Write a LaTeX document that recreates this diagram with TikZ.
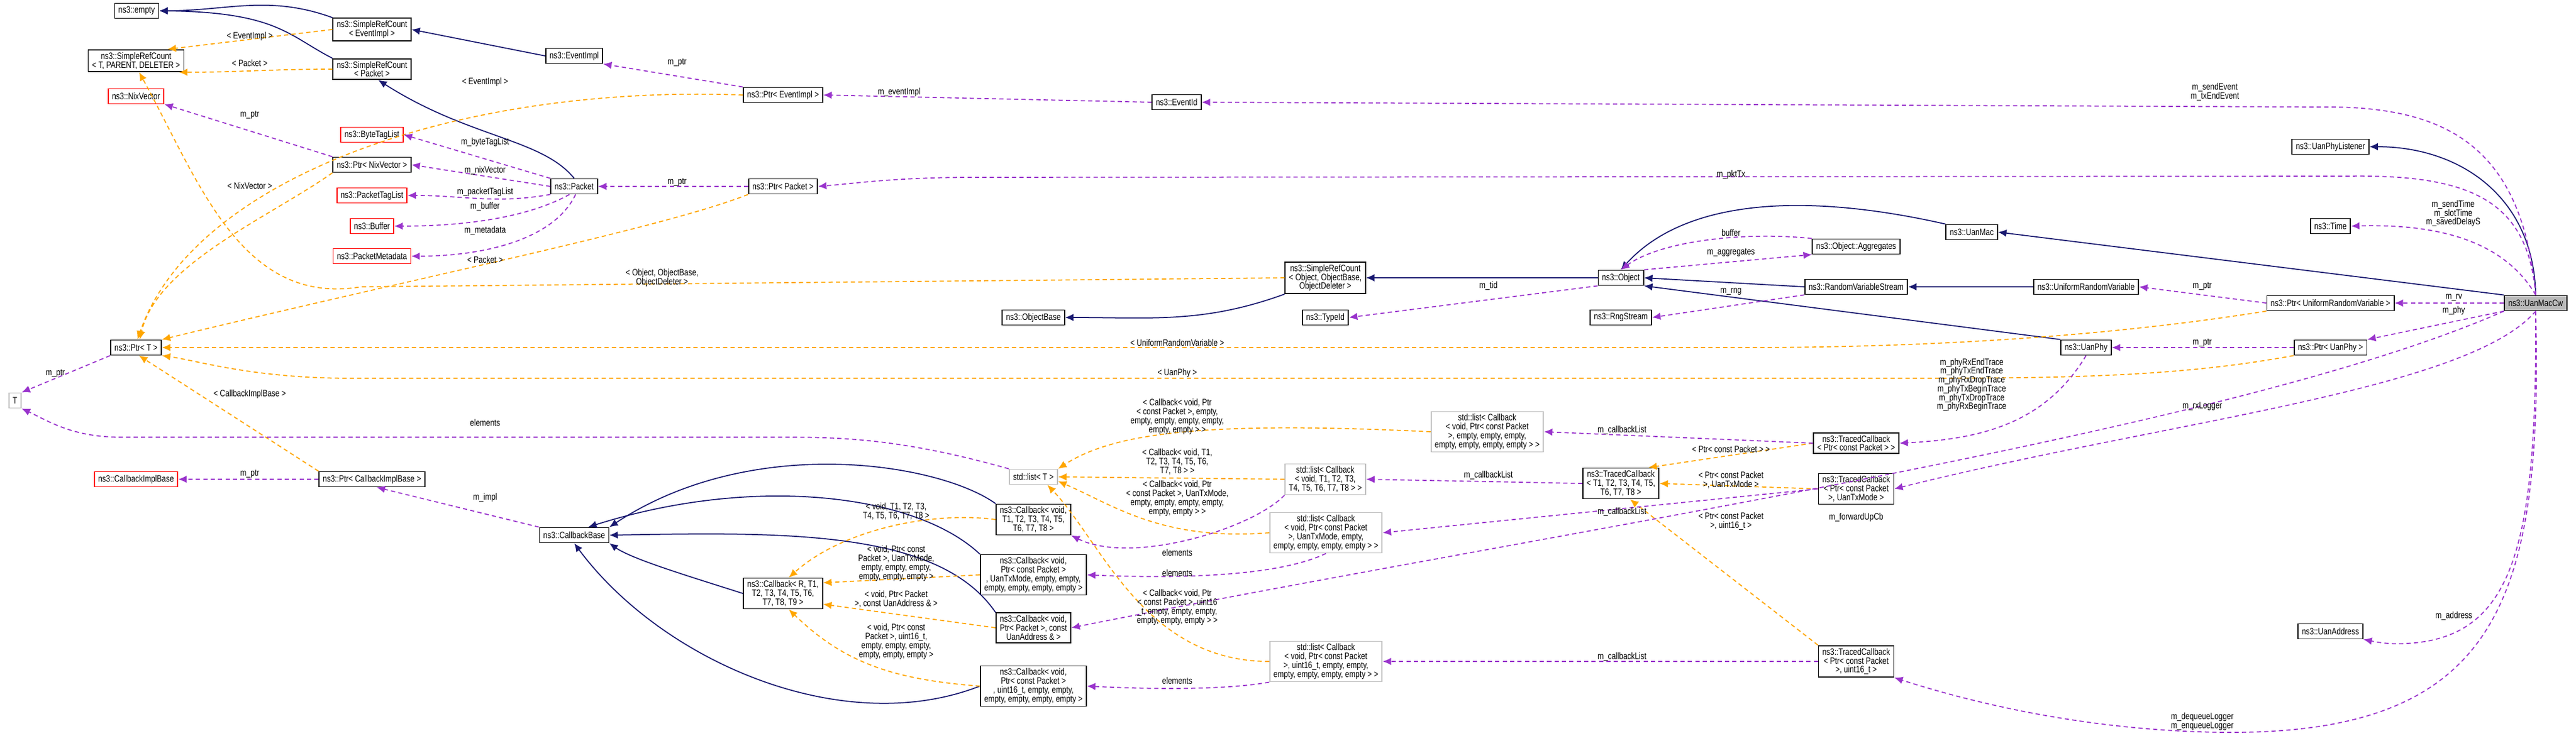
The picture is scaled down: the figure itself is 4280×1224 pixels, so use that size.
\documentclass[tikz,border=0pt]{standalone}
\usepackage{fontspec}
\setmainfont{Liberation Sans}[FakeStretch=0.8]
\usetikzlibrary{arrows.meta}
\definecolor{inhblue}{rgb}{0.1,0.1,0.44}
\definecolor{usepurple}{rgb}{0.6,0.2,0.8}
\definecolor{tplorange}{rgb}{1,0.65,0}
\tikzset{
  cls/.style={draw=black,line width=0.5pt,fill=white,align=center,inner xsep=1.8pt,inner ysep=1.2pt,minimum height=0.25cm,font=\fontsize{4.4}{4.2}\selectfont},
  undoc/.style={cls,draw=red},
  ext/.style={cls,draw=gray!50},
  focus/.style={cls,fill=gray!55},
  lbl/.style={align=center,inner sep=0pt,font=\fontsize{4.4}{4.2}\selectfont},
  inh/.style={draw=inhblue,line width=0.5pt,-{Latex[length=4pt,width=3.5pt]}},
  use/.style={draw=usepurple,line width=0.5pt,dash pattern=on 2pt off 1.5pt,-{Latex[length=4pt,width=3.5pt]}},
  tpl/.style={draw=tplorange,line width=0.5pt,dash pattern=on 2pt off 1.5pt,-{Latex[length=4pt,width=3.5pt]}}
}
\begin{document}
\begin{tikzpicture}[x=0.01cm,y=-0.01cm]
\useasboundingbox (0,0) rectangle (4280,1224);
% classes
\node[cls] (empty) at (227,18) {ns3::empty};
\node[cls] (srcEv) at (618,49) {ns3::SimpleRefCount\\ < EventImpl >};
\node[cls] (srcRef) at (226,101) {ns3::SimpleRefCount\\ < T, PARENT, DELETER >};
\node[cls] (srcPk) at (618,115) {ns3::SimpleRefCount\\ < Packet >};
\node[cls] (evImpl) at (954,93) {ns3::EventImpl};
\node[undoc] (nixVec) at (226,160) {ns3::NixVector};
\node[undoc] (byteTag) at (618,224) {ns3::ByteTagList};
\node[cls] (ptrNix) at (618,274) {ns3::Ptr< NixVector >};
\node[cls] (packet) at (954,310) {ns3::Packet};
\node[undoc] (pktTag) at (618,325) {ns3::PacketTagList};
\node[undoc] (buffer) at (618,376) {ns3::Buffer};
\node[undoc] (pktMeta) at (618,426) {ns3::PacketMetadata};
\node[cls] (ptrT) at (226,578) {ns3::Ptr< T >};
\node[ext] (tT) at (25,666) {T};
\node[undoc] (cbImpl) at (226,797) {ns3::CallbackImplBase};
\node[cls] (ptrCb) at (618,797) {ns3::Ptr< CallbackImplBase >};
\node[cls] (cbBase) at (954,890) {ns3::CallbackBase};
\node[cls] (cbGen) at (1301,987) {ns3::Callback< R, T1,\\ T2, T3, T4, T5, T6,\\ T7, T8, T9 >};
\node[cls] (ptrEv) at (1301,158) {ns3::Ptr< EventImpl >};
\node[cls] (ptrPk) at (1301,310) {ns3::Ptr< Packet >};
\node[cls] (eventId) at (1955,170) {ns3::EventId};
\node[cls] (objBase) at (1717,528) {ns3::ObjectBase};
\node[ext] (listT) at (1717,793) {std::list< T >};
\node[cls] (cbT8) at (1717,864) {ns3::Callback< void,\\ T1, T2, T3, T4, T5,\\ T6, T7, T8 >};
\node[cls] (cbTx) at (1717,956) {ns3::Callback< void,\\ Ptr< const Packet >\\ , UanTxMode, empty, empty,\\ empty, empty, empty, empty >};
\node[cls] (cbAddr) at (1717,1044) {ns3::Callback< void,\\ Ptr< Packet >, const\\ UanAddress \& >};
\node[cls] (cbU16) at (1717,1141) {ns3::Callback< void,\\ Ptr< const Packet >\\ , uint16\_t, empty, empty,\\ empty, empty, empty, empty >};
\node[cls] (srcObj) at (2202,462) {ns3::SimpleRefCount\\ < Object, ObjectBase,\\ ObjectDeleter >};
\node[cls] (typeId) at (2202,528) {ns3::TypeId};
\node[ext] (list8) at (2202,797) {std::list< Callback\\ < void, T1, T2, T3,\\ T4, T5, T6, T7, T8 > >};
\node[ext] (listTx) at (2203,886) {std::list< Callback\\ < void, Ptr< const Packet\\ >, UanTxMode, empty,\\ empty, empty, empty, empty > >};
\node[ext] (listU) at (2203,1100) {std::list< Callback\\ < void, Ptr< const Packet\\ >, uint16\_t, empty, empty,\\ empty, empty, empty, empty > >};
\node[ext] (listE) at (2471,718) {std::list< Callback\\ < void, Ptr< const Packet\\ >, empty, empty, empty,\\ empty, empty, empty, empty > >};
\node[cls] (object) at (2693,462) {ns3::Object};
\node[cls] (rngStream) at (2693,528) {ns3::RngStream};
\node[cls] (tcGen) at (2693,804) {ns3::TracedCallback\\ < T1, T2, T3, T4, T5,\\ T6, T7, T8 >};
\node[cls] (aggr) at (3084,410) {ns3::Object::Aggregates};
\node[cls] (rvs) at (3084,477) {ns3::RandomVariableStream};
\node[cls] (tcP) at (3084,737) {ns3::TracedCallback\\ < Ptr< const Packet > >};
\node[cls] (tcTx) at (3084,813) {ns3::TracedCallback\\ < Ptr< const Packet\\ >, UanTxMode >};
\node[cls] (tcU) at (3084,1100) {ns3::TracedCallback\\ < Ptr< const Packet\\ >, uint16\_t >};
\node[cls] (uanMac) at (3276,386) {ns3::UanMac};
\node[cls] (urv) at (3466,477) {ns3::UniformRandomVariable};
\node[cls] (uanPhy) at (3466,578) {ns3::UanPhy};
\node[cls] (phyList) at (3872,244) {ns3::UanPhyListener};
\node[cls] (time) at (3872,376) {ns3::Time};
\node[cls] (ptrUrv) at (3872,504) {ns3::Ptr< UniformRandomVariable >};
\node[cls] (ptrPhy) at (3872,578) {ns3::Ptr< UanPhy >};
\node[cls] (uanAddr) at (3872,1050) {ns3::UanAddress};
\node[focus] (macCw) at (4213,504) {ns3::UanMacCw};
% inheritance
\draw[inh] (srcEv.north west) to[out=160,in=0] (empty.east);
\draw[inh] (srcPk.north west) .. controls (480,60) and (460,20) .. (empty.east);
\draw[inh] (evImpl.west) -- (srcEv.east);
\draw[inh] (packet.north) .. controls (900,230) and (780,230) .. (srcPk.-60);
\draw[inh] (srcObj.south west) to[out=200,in=0] (objBase.east);
\draw[inh] (object.west) -- (srcObj.east);
\draw[inh] (rvs.west) -- (object.east);
\draw[inh] (uanMac.north west) .. controls (3000,320) and (2800,330) .. (object.north);
\draw[inh] (uanPhy.north west) -- (object.south east);
\draw[inh] (urv.west) -- (rvs.east);
\draw[inh] (macCw.north west) -- (uanMac.east);
\draw[inh] (macCw.north) .. controls (4210,330) and (4090,244) .. (phyList.east);
\draw[inh] (cbGen.west) .. controls (1150,960) and (1050,930) .. (cbBase.south east);
\draw[inh] (cbT8.north west) .. controls (1560,770) and (1250,720) .. (cbBase.north east);
\draw[inh] (cbTx.north west) .. controls (1520,820) and (1250,790) .. (cbBase.30);
\draw[inh] (cbAddr.north west) .. controls (1560,880) and (1300,885) .. (cbBase.east);
\draw[inh] (cbU16.west) .. controls (1400,1230) and (1100,1100) .. (cbBase.south);
% templates
\draw[tpl] (srcEv.west) -- (srcRef.20);
\draw[tpl] (srcPk.west) to[out=180,in=0] (srcRef.-15);
\draw[tpl] (srcObj.west) -- (600,477) .. controls (400,510) and (330,300) .. (srcRef.-75);
\draw[tpl] (ptrEv.west) .. controls (750,140) and (320,300) .. (ptrT.80);
\draw[tpl] (ptrNix.south west) .. controls (450,360) and (260,440) .. (ptrT.65);
\draw[tpl] (ptrPk.south west) .. controls (1100,380) and (700,460) .. (ptrT.north east);
\draw[tpl] (ptrCb.north west) -- (ptrT.-70);
\draw[tpl] (ptrUrv.south west) .. controls (3500,560) and (3200,578) .. (2900,578) -- (ptrT.east);
\draw[tpl] (ptrPhy.south west) .. controls (3600,630) and (3400,629) .. (3100,629) -- (580,629) .. controls (420,629) and (330,600) .. (ptrT.south east);
\draw[tpl] (cbT8.west) .. controls (1550,850) and (1400,880) .. (cbGen.70);
\draw[tpl] (cbTx.west) -- (cbGen.15);
\draw[tpl] (cbAddr.west) -- (cbGen.-15);
\draw[tpl] (cbU16.west) .. controls (1480,1130) and (1400,1100) .. (cbGen.-70);
\draw[tpl] (listE.west) .. controls (2000,700) and (1850,720) .. (listT.north east);
\draw[tpl] (list8.west) -- (listT.east);
\draw[tpl] (listTx.west) .. controls (1930,900) and (1850,840) .. (listT.-10);
\draw[tpl] (listU.west) .. controls (1900,1100) and (1830,900) .. (listT.-30);
\draw[tpl] (tcP.west) -- (tcGen.30);
\draw[tpl] (tcTx.west) -- (tcGen.east);
\draw[tpl] (tcU.north west) -- (tcGen.-60);
% usage
\draw[use] (ptrEv.north west) -- (evImpl.south east);
\draw[use] (eventId.west) -- (ptrEv.east);
\draw[use] (macCw.north) .. controls (4190,230) and (4050,175) .. (3850,178) -- (eventId.east);
\draw[use] (ptrNix.north west) -- (nixVec.south east);
\draw[use] (packet.north west) -- (byteTag.east);
\draw[use] (packet.west) -- (ptrNix.east);
\draw[use] (packet.south west) to[out=190,in=0] (pktTag.east);
\draw[use] (packet.-120) .. controls (880,360) and (780,376) .. (buffer.east);
\draw[use] (packet.-80) .. controls (920,400) and (800,426) .. (pktMeta.east);
\draw[use] (ptrPk.west) -- (packet.east);
\draw[use] (macCw.north) .. controls (4200,330) and (4100,290) .. (3900,293) -- (1600,295) .. controls (1480,296) and (1420,305) .. (ptrPk.east);
\draw[use] (ptrT.south west) -- (tT.north east);
\draw[use] (listT.north west) .. controls (1500,730) and (1400,727) .. (1300,727) -- (200,727) .. controls (120,727) and (80,700) .. (tT.south east);
\draw[use] (ptrCb.west) -- (cbImpl.east);
\draw[use] (cbBase.north west) -- (ptrCb.-60);
\draw[use] (list8.south west) .. controls (2080,880) and (1880,940) .. (cbT8.south east);
\draw[use] (listTx.south) .. controls (2120,960) and (1950,962) .. (cbTx.east);
\draw[use] (listU.south west) .. controls (2050,1145) and (1950,1148) .. (cbU16.east);
\draw[use] (macCw.south west) .. controls (3700,720) and (2600,880) .. (cbAddr.east);
\draw[use] (object.south west) -- (typeId.east);
\draw[use] (object.north east) -- (aggr.south west);
\draw[use] (aggr.north west) .. controls (2900,385) and (2760,400) .. (object.north);
\draw[use] (rvs.south west) -- (rngStream.east);
\draw[use] (ptrUrv.west) -- (urv.east);
\draw[use] (macCw.west) -- (ptrUrv.east);
\draw[use] (macCw.south west) -- (ptrPhy.north east);
\draw[use] (ptrPhy.west) -- (uanPhy.east);
\draw[use] (macCw.north) .. controls (4160,400) and (4050,372) .. (time.east);
\draw[use] (uanPhy.south) .. controls (3400,700) and (3300,730) .. (tcP.east);
\draw[use] (tcP.west) -- (listE.east);
\draw[use] (tcGen.west) -- (list8.east);
\draw[use] (tcTx.west) -- (listTx.east);
\draw[use] (tcU.west) -- (listU.east);
\draw[use] (macCw.south) .. controls (4100,650) and (3600,700) .. (tcTx.east);
\draw[use] (macCw.south) .. controls (4215,900) and (4180,1060) .. (4000,1070) .. controls (3970,1072) and (3950,1068) .. (uanAddr.south east);
\draw[use] (macCw.south) .. controls (4225,1000) and (4150,1220) .. (3700,1218) .. controls (3450,1216) and (3250,1160) .. (tcU.south east);
% labels
\node[lbl] (lEvA) at (415,60) {< EventImpl >};
\node[lbl] (lPkA) at (415,105) {< Packet >};
\node[lbl] (lPtrNix) at (415,191) {m\_ptr};
\node[lbl] (lEvB) at (806,136) {< EventImpl >};
\node[lbl] (lByte) at (806,236) {m\_byteTagList};
\node[lbl] (lNix) at (806,283) {m\_nixVector};
\node[lbl] (lPktTag) at (806,319) {m\_packetTagList};
\node[lbl] (lBuf) at (806,343) {m\_buffer};
\node[lbl] (lMeta) at (806,383) {m\_metadata};
\node[lbl] (lNixT) at (415,309) {< NixVector >};
\node[lbl] (lPkB) at (806,432) {< Packet >};
\node[lbl] (lObj) at (1100,462) {< Object, ObjectBase,\\ ObjectDeleter >};
\node[lbl] (lPtrT) at (92,621) {m\_ptr};
\node[lbl] (lCbImpl) at (415,655) {< CallbackImplBase >};
\node[lbl] (lElemT) at (806,703) {elements};
\node[lbl] (lPtrCb) at (415,788) {m\_ptr};
\node[lbl] (lImpl) at (806,827) {m\_impl};
\node[lbl] (lPtrEv) at (1125,104) {m\_ptr};
\node[lbl] (lPtrPk) at (1125,303) {m\_ptr};
\node[lbl] (lEvImpl) at (1494,153) {m\_eventImpl};
\node[lbl] (lUrv) at (1956,570) {< UniformRandomVariable >};
\node[lbl] (lPhy) at (1956,620) {< UanPhy >};
\node[lbl] (lListE) at (1956,693) {< Callback< void, Ptr\\ < const Packet >, empty,\\ empty, empty, empty, empty,\\ empty, empty > >};
\node[lbl] (lList8) at (1956,768) {< Callback< void, T1,\\ T2, T3, T4, T5, T6,\\ T7, T8 > >};
\node[lbl] (lListTx) at (1956,829) {< Callback< void, Ptr\\ < const Packet >, UanTxMode,\\ empty, empty, empty, empty,\\ empty, empty > >};
\node[lbl] (lElem8) at (1956,919) {elements};
\node[lbl] (lElemTx) at (1956,953) {elements};
\node[lbl] (lListU) at (1956,1010) {< Callback< void, Ptr\\ < const Packet >, uint16\\ \_t, empty, empty, empty,\\ empty, empty, empty > >};
\node[lbl] (lElemU) at (1956,1132) {elements};
\node[lbl] (lCb8) at (1489,850) {< void, T1, T2, T3,\\ T4, T5, T6, T7, T8 >};
\node[lbl] (lCbTx) at (1489,937) {< void, Ptr< const\\ Packet >, UanTxMode,\\ empty, empty, empty,\\ empty, empty, empty >};
\node[lbl] (lCbAddr) at (1489,996) {< void, Ptr< Packet\\ >, const UanAddress \& >};
\node[lbl] (lCbU) at (1489,1067) {< void, Ptr< const\\ Packet >, uint16\_t,\\ empty, empty, empty,\\ empty, empty, empty >};
\node[lbl] (lPktTx) at (2876,290) {m\_pktTx};
\node[lbl] (lBuffer) at (2876,387) {buffer};
\node[lbl] (lAggr) at (2876,420) {m\_aggregates};
\node[lbl] (lTid) at (2473,475) {m\_tid};
\node[lbl] (lRng) at (2876,485) {m\_rng};
\node[lbl] (lCbl1) at (2695,715) {m\_callbackList};
\node[lbl] (lTcP) at (2876,747) {< Ptr< const Packet > >};
\node[lbl] (lCbl2) at (2473,790) {m\_callbackList};
\node[lbl] (lTcTx) at (2876,798) {< Ptr< const Packet\\ >, UanTxMode >};
\node[lbl] (lCbl3) at (2695,851) {m\_callbackList};
\node[lbl] (lTcU) at (2876,867) {< Ptr< const Packet\\ >, uint16\_t >};
\node[lbl] (lFwd) at (3084,860) {m\_forwardUpCb};
\node[lbl] (lCbl4) at (2695,1092) {m\_callbackList};
\node[lbl] (lTrace) at (3276,640) {m\_phyRxEndTrace\\ m\_phyTxEndTrace\\ m\_phyRxDropTrace\\ m\_phyTxBeginTrace\\ m\_phyTxDropTrace\\ m\_phyRxBeginTrace};
\node[lbl] (lEvt) at (3680,153) {m\_sendEvent\\ m\_txEndEvent};
\node[lbl] (lTime) at (4076,355) {m\_sendTime\\ m\_slotTime\\ m\_savedDelayS};
\node[lbl] (lPtrUrv) at (3659,476) {m\_ptr};
\node[lbl] (lRv) at (4077,495) {m\_rv};
\node[lbl] (lPhyM) at (4077,516) {m\_phy};
\node[lbl] (lPtrPhy) at (3659,570) {m\_ptr};
\node[lbl] (lRx) at (3659,676) {m\_rxLogger};
\node[lbl] (lAddr) at (4077,1024) {m\_address};
\node[lbl] (lDeq) at (3659,1200) {m\_dequeueLogger\\ m\_enqueueLogger};
\end{tikzpicture}
\end{document}
